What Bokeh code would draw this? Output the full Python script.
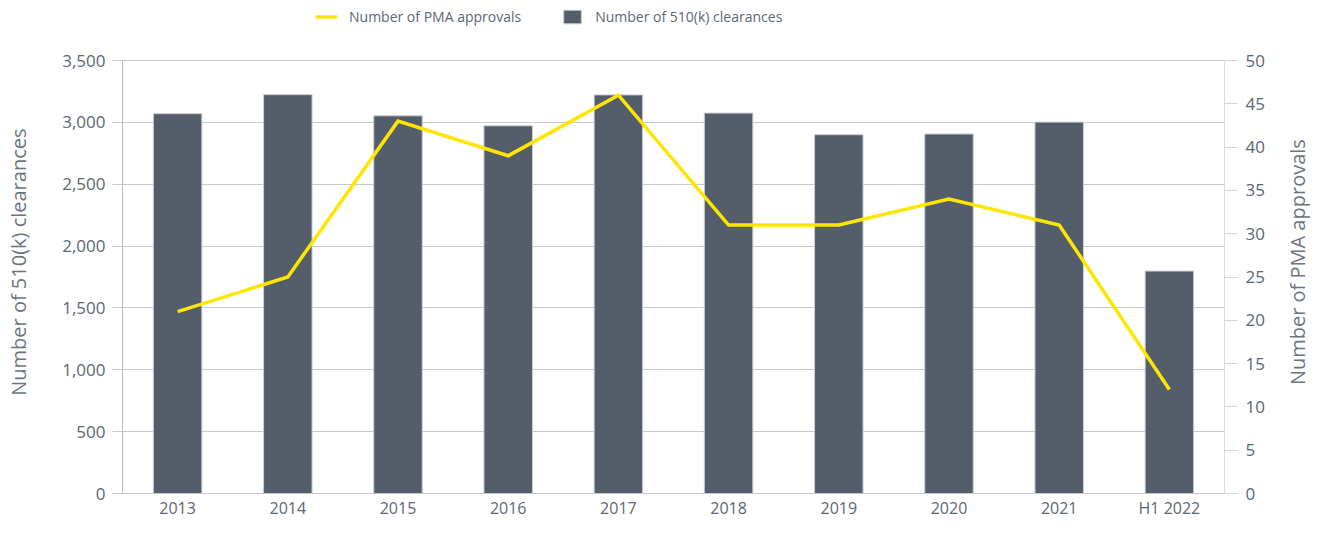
import math
from bokeh.plotting import figure
from bokeh.layouts import row
from bokeh.models import (ColumnDataSource, Range1d, LinearAxis, FactorRange, FixedTicker,
                          NumeralTickFormatter, Legend, LegendItem, Label)
from bokeh.embed import file_html
from bokeh.resources import INLINE

years = ["2013", "2014", "2015", "2016", "2017", "2018", "2019", "2020", "2021", "H1 2022"]
clearances_510k = [3070, 3224, 3053, 2972, 3222, 3075, 2900, 2906, 3002, 1798]
pma_approvals = [21, 25, 43, 39, 46, 31, 31, 34, 31, 12]
left_ticks = [0, 500, 1000, 1500, 2000, 2500, 3000, 3500]
right_ticks = [0, 5, 10, 15, 20, 25, 30, 35, 40, 45, 50]
left_title = "Number of 510(k) clearances"
right_title = "Number of PMA approvals"

FONT = "Open Sans"
TICK_COLOR = "#5d6773"
TITLE_COLOR = "#6b7482"
GRID = "#c6c8cc"

# layout (pixels)
H = 521
W_LEFT, W_MAIN, W_RIGHT = 36, 1232, 46
BOTTOM_BORDER = 28
TOP_GAP = 60          # empty band above the 3,500 line (holds the legend)
FRAME_H = H - BOTTOM_BORDER
scale = FRAME_H / (FRAME_H - TOP_GAP)
left_max = left_ticks[-1] * scale
right_max = right_ticks[-1] * scale
title_y = H - (TOP_GAP + FRAME_H) / 2   # vertical centre of the plotted band, from the bottom

src = ColumnDataSource(dict(year=years, k510=clearances_510k, pma=pma_approvals))

p = figure(x_range=FactorRange(*years, range_padding=0), y_range=Range1d(0, left_max),
           width=W_MAIN, height=H, output_backend="svg", toolbar_location=None,
           min_border_left=86, min_border_right=44, min_border_top=0,
           min_border_bottom=BOTTOM_BORDER)
p.extra_y_ranges = {"pma": Range1d(0, right_max)}
p.outline_line_color = None
p.background_fill_color = "white"
p.border_fill_color = "white"

bars = p.vbar(x="year", top="k510", width=0.44, source=src, fill_color="#545e6a",
              line_color="#c9cdd3", line_width=1)
line = p.line(x="year", y="pma", source=src, y_range_name="pma", line_color="#ffe600",
              line_width=3.5, line_join="miter")

# grids
p.xgrid.grid_line_color = None
p.ygrid.grid_line_color = GRID
p.ygrid.ticker = FixedTicker(ticks=left_ticks)

# left axis
ly = p.yaxis[0]
ly.ticker = FixedTicker(ticks=left_ticks)
ly.bounds = (left_ticks[0], left_ticks[-1])
ly.formatter = NumeralTickFormatter(format="0,0")
ly.axis_line_color = "#b9bdc3"
ly.major_tick_line_color = GRID
ly.major_tick_out = 10
ly.major_tick_in = 0
ly.minor_tick_line_color = None
ly.major_label_standoff = 7
ly.major_label_text_font = FONT
ly.major_label_text_font_size = "17px"
ly.major_label_text_color = TICK_COLOR

# right axis
ry = LinearAxis(y_range_name="pma", ticker=FixedTicker(ticks=right_ticks))
ry.bounds = (right_ticks[0], right_ticks[-1])
ry.axis_line_color = "#dadce0"
ry.major_tick_line_color = "#d2d4d8"
ry.major_tick_out = 13
ry.major_tick_in = 0
ry.minor_tick_line_color = None
ry.major_label_standoff = 8
ry.major_label_text_font = FONT
ry.major_label_text_font_size = "17px"
ry.major_label_text_color = TICK_COLOR
p.add_layout(ry, "right")

# x axis
xa = p.xaxis[0]
xa.axis_line_color = GRID
xa.major_tick_line_color = None
xa.major_tick_out = 0
xa.major_tick_in = 0
xa.minor_tick_line_color = None
xa.major_label_standoff = 3
xa.axis_label_standoff = 0
xa.major_label_text_font = FONT
xa.major_label_text_font_size = "16px"
xa.major_label_text_color = TICK_COLOR

legend = Legend(items=[LegendItem(label="Number of PMA approvals", renderers=[line]),
                       LegendItem(label="Number of 510(k) clearances", renderers=[bars])],
                orientation="horizontal", location=(193, FRAME_H - 26),
                glyph_width=22, glyph_height=17, label_standoff=12, spacing=40,
                padding=0, margin=0, border_line_color=None, background_fill_alpha=0,
                label_text_font=FONT, label_text_font_size="14px", label_text_color=TICK_COLOR)
p.add_layout(legend, "center")


def title_strip(width, text, x_center):
    f = figure(width=width, height=H, x_range=Range1d(0, width), y_range=Range1d(0, H),
               x_axis_type=None, y_axis_type=None, output_backend="svg", toolbar_location=None,
               min_border=0)
    f.outline_line_color = None
    f.grid.visible = False
    f.add_layout(Label(x=x_center, y=title_y, text=text, angle=math.pi / 2,
                       text_align="center", text_baseline="middle", text_font=FONT,
                       text_font_size="20px", text_color=TITLE_COLOR))
    return f


left_strip = title_strip(W_LEFT, left_title, 18)
right_strip = title_strip(W_RIGHT, right_title, 29)

layout = row(left_strip, p, right_strip, spacing=0)

open("out.html", "w").write(file_html(layout, INLINE))
